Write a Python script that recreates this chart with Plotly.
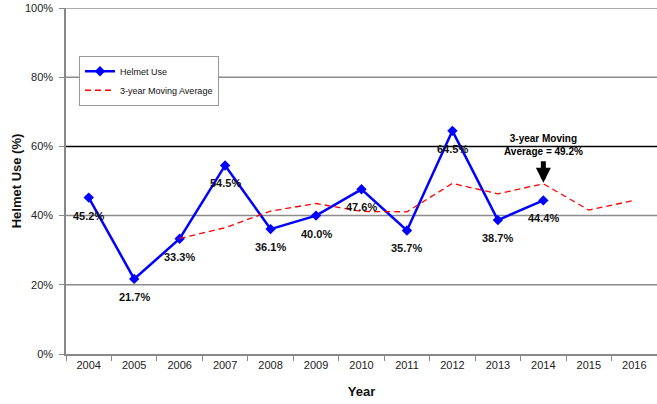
import plotly.graph_objects as go

years = [2004, 2005, 2006, 2007, 2008, 2009, 2010, 2011, 2012, 2013, 2014, 2015, 2016]
helmet_years = [2004, 2005, 2006, 2007, 2008, 2009, 2010, 2011, 2012, 2013, 2014]
helmet_use = [45.2, 21.7, 33.3, 54.5, 36.1, 40.0, 47.6, 35.7, 64.5, 38.7, 44.4]
ma_years = [2006, 2007, 2008, 2009, 2010, 2011, 2012, 2013, 2014, 2015, 2016]
moving_avg = [33.4, 36.5, 41.3, 43.5, 41.2, 41.1, 49.3, 46.3, 49.2, 41.6, 44.4]
ytick_vals = [0, 20, 40, 60, 80, 100]
ytick_text = ["0%", "20%", "40%", "60%", "80%", "100%"]

FONT = "Liberation Sans, Arial, sans-serif"

fig = go.Figure()

# gridlines (60% emphasised in black)
for v in ytick_vals[1:]:
    fig.add_shape(type="line", xref="paper", x0=0, x1=1, yref="y", y0=v, y1=v,
                  line=dict(color="#000000" if v == 60 else "#8c8c8c", width=1.5),
                  layer="below")

fig.add_trace(go.Scatter(
    x=helmet_years, y=helmet_use, name="Helmet Use",
    mode="lines+markers",
    line=dict(color="#0000FF", width=2.5),
    marker=dict(symbol="diamond", size=8, color="#0000FF"),
))
fig.add_trace(go.Scatter(
    x=ma_years, y=moving_avg, name="3-year Moving Average",
    mode="lines",
    line=dict(color="#FF0000", width=1.3, dash="6px,4px"),
))

for xv, yv in zip(helmet_years, helmet_use):
    fig.add_annotation(x=xv, y=yv, xref="x", yref="y", text=f"{yv:.1f}%",
                       showarrow=False, yshift=-18,
                       font=dict(family=FONT, size=11, color="#111111", weight="bold"))

fig.add_annotation(x=2014, y=49.2, xref="x", yref="y", text="", showarrow=True,
                   ax=0, ay=-24, arrowhead=2, arrowsize=0.6, arrowwidth=5,
                   arrowcolor="#000000", standoff=1)
fig.add_annotation(x=2014, y=49.2, xref="x", yref="y",
                   text="3-year Moving<br>Average = 49.2%", showarrow=False,
                   yshift=25, yanchor="bottom",
                   font=dict(family="Liberation Sans Narrow, Arial Narrow, " + FONT, size=10,
                             color="#000000", weight="bold"))

fig.update_layout(
    width=657, height=404,
    margin=dict(l=66, r=0, t=8, b=50),
    paper_bgcolor="white", plot_bgcolor="white",
    font=dict(family=FONT, size=11, color="#222222"),
    showlegend=True,
    legend=dict(x=0.022, y=0.862, xanchor="left", yanchor="top",
                bgcolor="white", bordercolor="#999999", borderwidth=1,
                font=dict(family=FONT, size=9, color="#111111"),
                tracegroupgap=0, itemwidth=30),
    xaxis=dict(range=[2003.5, 2016.5], tickvals=years, ticktext=[str(y) for y in years],
               showgrid=False, showline=True, linecolor="#888888", linewidth=1.5,
               ticks="", tickfont=dict(size=11, color="#222222"), automargin=False,
               minor=dict(tickvals=[y + 0.5 for y in years[:-1]] + [2003.5], ticks="outside",
                          ticklen=5, tickcolor="#888888", showgrid=False),
               title=dict(text="Year", font=dict(size=13, color="#111111", weight="bold"), standoff=17),
               zeroline=False),
    yaxis=dict(range=[0, 100], tickvals=ytick_vals, ticktext=ytick_text,
               showgrid=False,
               showline=True, linecolor="#888888", linewidth=1.5,
               ticks="outside", ticklen=5, tickcolor="#888888", automargin=False,
               ticklabelstandoff=4,
               tickfont=dict(size=11, color="#222222"),
               title=dict(text="Helmet Use (%)", font=dict(size=13, color="#111111", weight="bold"), standoff=0),
               zeroline=False),
)

fig.write_html("out.html", config={"displayModeBar": False},
               post_script="document.body.style.margin='0';")
